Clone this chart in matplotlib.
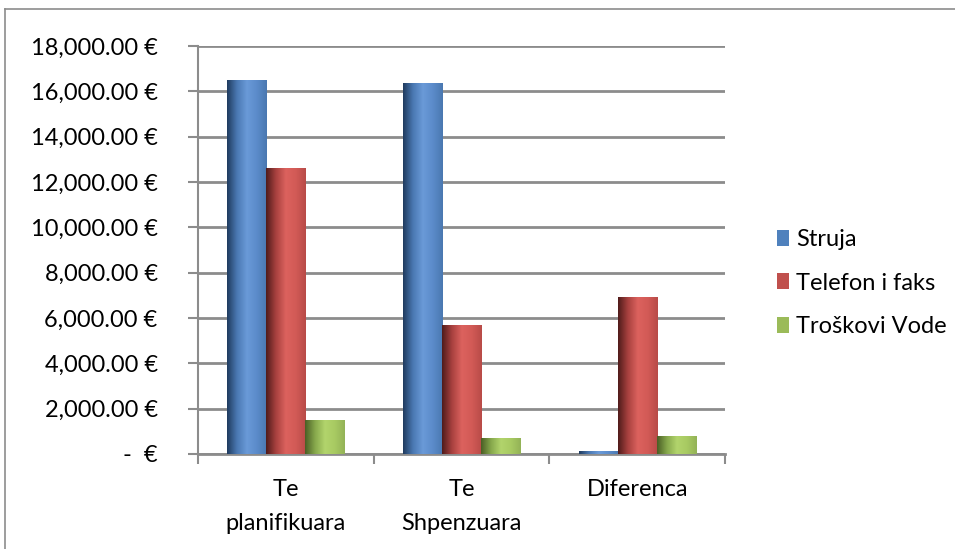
import numpy as np
import matplotlib.pyplot as plt
from matplotlib.colors import LinearSegmentedColormap
from matplotlib.patches import Patch
from matplotlib.lines import Line2D
from matplotlib.ticker import FuncFormatter

categories = ['Te\nplanifikuara', 'Te\nShpenzuara', 'Diferenca']
series = ['Struja', 'Telefon i faks', 'Troškovi Vode']
struja = [16500, 16350, 150]
telefon = [12600, 5690, 6910]
troskovi = [1480, 700, 780]

base_colors = ['#4f81bd', '#c0504d', '#9bbb59']
# dark edge -> light middle -> mid right, like the excel bevel
grad_stops = [
    ['#1f3b5e', '#4a78b2', '#6a9ad8', '#5b8bca', '#4a78b0'],
    ['#4f1b1a', '#a8413f', '#dc625e', '#d25a56', '#b84b48'],
    ['#4a5e25', '#86a84c', '#b2d46c', '#a8ca62', '#93b257'],
]

plt.rcParams['font.family'] = ['Lato', 'DejaVu Sans']
fs = 17

fig = plt.figure(figsize=(9.55, 5.49), dpi=100)
ax = fig.add_axes([198/955, 1 - 454/549, (725-198)/955, (454-46)/549])

x = np.arange(len(categories))
w = 1 / 4.5
data = [struja, telefon, troskovi]

for i, vals in enumerate(data):
    bars = ax.bar(x + (i - 1) * w, vals, w, color=base_colors[i], zorder=3,
                  edgecolor='none')
    cmap = LinearSegmentedColormap.from_list('g%d' % i, grad_stops[i])
    grad = np.linspace(0, 1, 256).reshape(1, -1)
    for b in bars:
        im = ax.imshow(grad, cmap=cmap, aspect='auto', zorder=4,
                       extent=(b.get_x(), b.get_x() + b.get_width(), 0, b.get_height()),
                       interpolation='bilinear')
        im.set_clip_path(b)

ax.set_xlim(-0.5, 2.5)
ax.set_ylim(0, 18000)

ax.set_yticks(np.arange(0, 18001, 2000))
ax.yaxis.set_major_formatter(FuncFormatter(
    lambda v, p: '-  €' if v == 0 else '{:,.2f} €'.format(v)))
ax.grid(axis='y', color='#8c8c8c', linewidth=2, zorder=0)
ax.set_axisbelow(True)

ax.set_xticks(x)
ax.set_xticklabels(categories, linespacing=1.75)
ax.set_xticks([-0.5, 0.5, 1.5, 2.5], minor=True)
ax.tick_params(axis='x', which='major', length=0, pad=18, labelsize=fs)
ax.tick_params(axis='x', which='minor', length=7, width=1.5, color='#8c8c8c')
ax.tick_params(axis='y', length=7, width=1.5, color='#8c8c8c', labelsize=fs, pad=22)

for s in ['top', 'right']:
    ax.spines[s].set_visible(False)
ax.spines['left'].set_color('#8c8c8c')
ax.spines['left'].set_linewidth(1.5)
ax.spines['bottom'].set_color('#8c8c8c')
ax.spines['bottom'].set_linewidth(2)

handles = [Patch(facecolor=c, edgecolor='none') for c in base_colors]
fig.legend(handles, series, loc='center left', bbox_to_anchor=(770/955, 1 - 283/549),
           frameon=False, fontsize=fs, handlelength=0.5, handleheight=0.65,
           handletextpad=0.3, labelspacing=0.95, borderaxespad=0, borderpad=0.3)

# chart border
fig.add_artist(Line2D([5/955, 1], [1 - 9/549, 1 - 9/549], color='#8c8c8c', lw=1.2))
fig.add_artist(Line2D([5/955, 5/955], [0, 1 - 9/549], color='#8c8c8c', lw=1.2))

fig.savefig('out.png', dpi=100)
